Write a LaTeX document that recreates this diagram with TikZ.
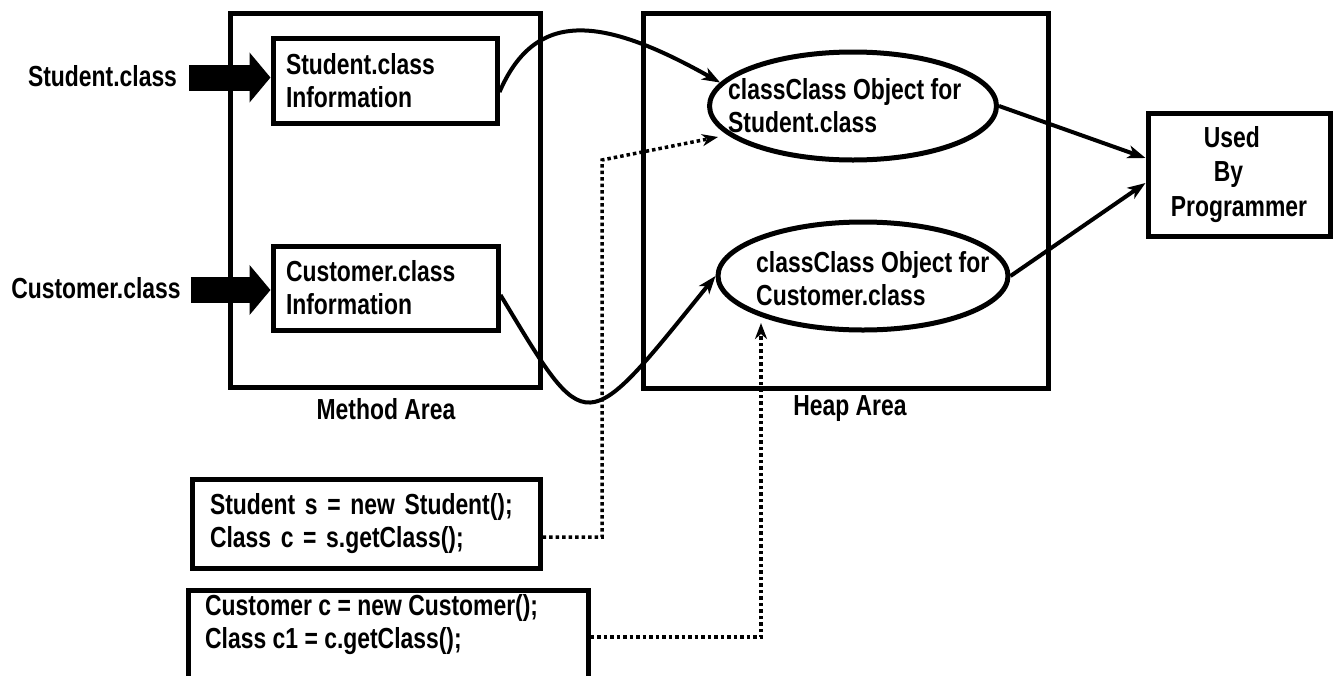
\documentclass[tikz,border=0pt]{standalone}
\usepackage{fontspec}
\setmainfont{Liberation Sans}[FakeStretch=0.79]
\usetikzlibrary{arrows.meta,shapes.geometric}
\begin{document}
\begin{tikzpicture}[x=1pt,y=-1pt,
  txt/.style={font=\fontsize{29}{33}\selectfont\bfseries, inner sep=0pt, align=left},
  area/.style={draw, line width=5pt, rectangle, inner sep=0pt},
  infobox/.style={draw, line width=5pt, rectangle, font=\fontsize{29}{33}\selectfont\bfseries, align=left, inner ysep=0pt},
  ellbox/.style={draw, line width=5pt, ellipse, inner sep=0pt},
  conn/.style={line width=4pt, -{Stealth[length=18pt,width=13pt,inset=5pt]}},
  dotconn/.style={line width=3.5pt, dash pattern=on 3.5pt off 3pt, -{Stealth[length=16pt,width=12pt,inset=5pt]}},
  blockarrow/.style={line width=26pt, -{Triangle[length=21pt,width=49pt]}}
]
\useasboundingbox (0,0) rectangle (1335,675);
\clip (0,0) rectangle (1335,675);

% areas
\node[area, minimum width=310pt, minimum height=374pt] (method) at (385,200) {};
\node[area, minimum width=405pt, minimum height=375pt] (heap) at (845.5,200.5) {};
\node[txt] (methodlbl) at (386,409) {Method Area};
\node[txt] (heaplbl) at (850,409) {Heap Area};

% method area boxes
\node[infobox, minimum width=224pt, minimum height=85pt, inner xsep=13pt, text width=198pt] (info1) at (385,80.5) {Student.class\\Information};
\node[infobox, minimum width=225pt, minimum height=84pt, inner xsep=13pt, text width=199pt] (info2) at (385.5,288) {Customer.class\\Information};

% input labels
\node[txt] (lbl1) at (102.5,76) {Student.class};
\node[txt] (lbl2) at (96,288) {Customer.class};
\draw[blockarrow] ([xshift=12pt,yshift=-1.5pt]lbl1.east) -- ([yshift=-1.5pt]lbl1.east -| info1.west);
\draw[blockarrow] ([xshift=10pt,yshift=-2pt]lbl2.east) -- ([yshift=-2pt]lbl2.east -| info2.west);

% heap objects
\node[ellbox, minimum width=287pt, minimum height=108pt] (ell1) at (853,106) {};
\node[txt, anchor=west] (ell1txt) at (728,105.5) {classClass Object for\\Student.class};
\node[ellbox, minimum width=290pt, minimum height=108pt] (ell2) at (863,276) {};
\node[txt, anchor=west] (ell2txt) at (756,278.5) {classClass Object for\\Customer.class};

% used by programmer
\node[draw, line width=5pt, rectangle, minimum width=182pt, minimum height=123pt, inner sep=0pt,
      font=\fontsize{29}{34.5}\selectfont\bfseries, align=left] (used) at (1239,174.5)
      {\hspace*{33pt}Used\\\hspace*{43pt}By\\Programmer};

% code boxes
\node[infobox, minimum width=348pt, minimum height=89pt, inner xsep=18pt, text width=312pt] (code1) at (366,523.5)
      {Student s = new Student();\\Class c = s.getClass();};
\node[area, minimum width=400pt, minimum height=110pt] (code2box) at (388,645) {};
\node[txt, anchor=west] (code2) at (205,625) {Customer c = new Customer();\\Class c1 = c.getClass();};

% connectors
\coordinate (d1end) at (718,137);
\coordinate (d2end) at (761,323);
\draw[conn] ([yshift=-11.5pt]info1.east) .. controls (535,10) and (600,15) .. (ell1.170);
\draw[conn] ([yshift=-7pt]info2.east) .. controls (588,440) and (583,440) .. (ell2.west);
\draw[conn] (ell1.east) -- ([yshift=16.5pt]used.west);
\draw[conn] (ell2.east) -- ([yshift=-8.5pt]used.west);
\draw[dotconn] ([yshift=-13.5pt]code1.east) -| (602,160) -- (d1end);
\draw[dotconn] ([yshift=8pt]code2box.east) -| (d2end);
\end{tikzpicture}
\end{document}
